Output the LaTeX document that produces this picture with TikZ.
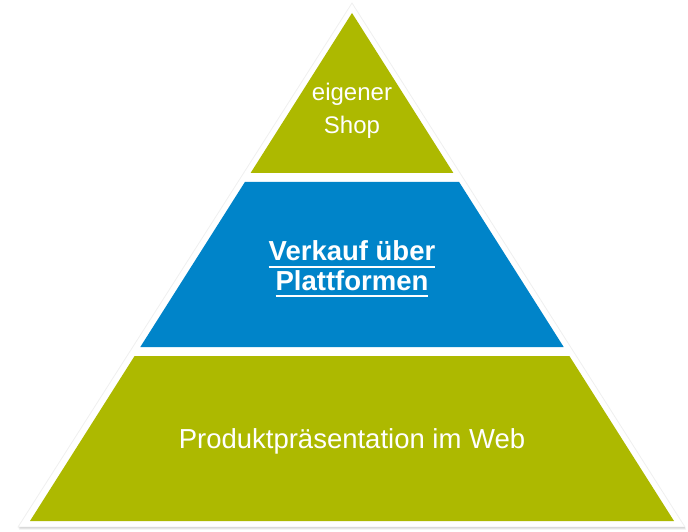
\documentclass[tikz,border=0pt]{standalone}
\usepackage{fontspec}
\setmainfont{Liberation Sans}
\definecolor{tiergreen}{RGB}{173,185,0}
\definecolor{tierblue}{RGB}{0,132,201}
\newsavebox{\ulinebox}
\newcommand{\ulinetext}[1]{\sbox{\ulinebox}{#1}\rlap{\rule[-7pt]{\wd\ulinebox}{2.2pt}}\usebox{\ulinebox}}
\begin{document}
\begin{tikzpicture}[x=1pt,y=1pt,inner sep=0pt,outer sep=0pt,
tiertext/.style={text=white,align=center,inner sep=0pt}]
\useasboundingbox (0,0) rectangle (688,531);
% frame with soft shadow
\foreach \s/\o in {2.5/0.06,1.6/0.08,0.8/0.10}
  \fill[black,opacity=\o,shift={(0.4*\s,-\s)}] (352,528) -- (685,4) -- (18,4) -- cycle;
\fill[white] (352,528) -- (685,4) -- (18,4) -- cycle;
\draw[gray!12,line width=0.8pt] (352,528) -- (685,4) -- (18,4) -- cycle;

% the three tiers
\fill[tiergreen] (352,518) -- (453.4,358) -- (250.6,358) -- cycle;
\fill[tierblue] (244.9,349) -- (459.1,349) -- (563.7,184) -- (140.3,184) -- cycle;
\fill[tiergreen] (134.6,175) -- (569.4,175) -- (674,10) -- (30,10) -- cycle;

\draw (352,420.6) node[tiertext,font={\fontsize{24}{33}\selectfont}] (shop) {eigener\\Shop};
\draw (352,262) node[tiertext,font={\bfseries\fontsize{27.5}{29.5}\selectfont}] (platform) {\ulinetext{Verkauf über}\\\ulinetext{Plattformen}};
\draw (352,83) node[tiertext,anchor=base,font={\fontsize{27.5}{32}\selectfont}] (web) {Produktpräsentation im Web};
\end{tikzpicture}
\end{document}
